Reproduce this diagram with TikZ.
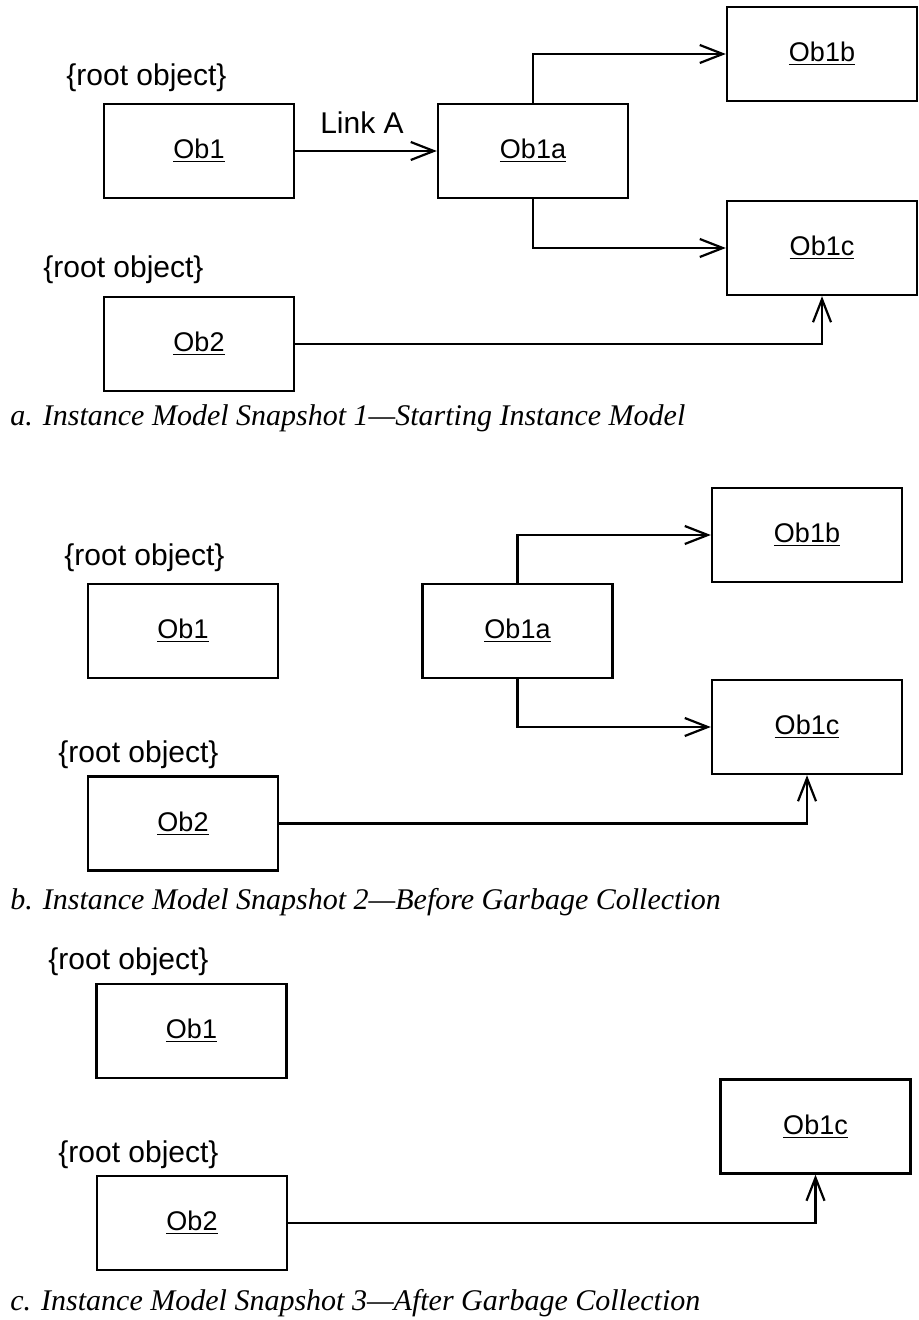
\documentclass[tikz,border=0pt]{standalone}
\usepackage{fontspec}
\newfontfamily\objfont{Liberation Sans}
\newfontfamily\capfont{Liberation Serif}
\usetikzlibrary{arrows.meta}

\tikzset{
  obj/.style={draw, line width=1.2pt, minimum width=95pt, minimum height=47pt,
    inner sep=0pt, font=\objfont\fontsize{13.5}{16}\selectfont},
  rootlabel/.style={anchor=west, inner sep=0pt, font=\objfont\fontsize{15}{18}\selectfont},
  link/.style={line width=1.1pt, -{Straight Barb[length=11.5pt,width=9pt]}},
  snapcaption/.style={anchor=base west, inner sep=0pt, font=\capfont\fontsize{15}{18}\selectfont\itshape},
}

\begin{document}
\begin{tikzpicture}[x=0.5pt, y=-0.5pt]
\useasboundingbox (0,0) rectangle (919,1320);

% snapshot 1
\node[rootlabel] (ra1) at (66,78)  {\{root object\}};
\node[rootlabel] (ra2) at (43,270) {\{root object\}};
\node[obj] (a1)  at (199,151) {\underline{Ob1}};
\node[obj] (a1a) at (533,151) {\underline{Ob1a}};
\node[obj] (a1b) at (822,54)  {\underline{Ob1b}};
\node[obj] (a1c) at (822,248) {\underline{Ob1c}};
\node[obj] (a2)  at (199,344) {\underline{Ob2}};
\node[rootlabel, anchor=center] (linkA) at (362,123) {Link A};

\draw[link] (a1) -- (a1a);
\draw[link] (a1a) |- (a1b);
\draw[link] (a1a) |- (a1c);
\draw[link] (a2) -| (a1c);

\node[snapcaption] (capa) at (10,425) {a. Instance Model Snapshot 1\textemdash Starting Instance Model};

% snapshot 2
\node[rootlabel] (rb1) at (64,558) {\{root object\}};
\node[rootlabel] (rb2) at (58,755) {\{root object\}};
\node[obj] (b1)  at (183,631)   {\underline{Ob1}};
\node[obj] (b1a) at (517.5,631) {\underline{Ob1a}};
\node[obj] (b1b) at (807,535)   {\underline{Ob1b}};
\node[obj] (b1c) at (807,727)   {\underline{Ob1c}};
\node[obj] (b2)  at (183,823.5) {\underline{Ob2}};

\draw[link] (b1a) |- (b1b);
\draw[link] (b1a) |- (b1c);
\draw[link] (b2) -| (b1c);

\node[snapcaption] (capb) at (10,909) {b. Instance Model Snapshot 2\textemdash Before Garbage Collection};

% snapshot 3
\node[rootlabel] (rc1) at (48,962)  {\{root object\}};
\node[rootlabel] (rc2) at (58,1155) {\{root object\}};
\node[obj] (c1)  at (191.5,1031)  {\underline{Ob1}};
\node[obj] (c1c) at (815.5,1126.5) {\underline{Ob1c}};
\node[obj] (c2)  at (192,1223)    {\underline{Ob2}};

\draw[link] (c2) -| (c1c);

\node[snapcaption] (capc) at (10,1310) {c. Instance Model Snapshot 3\textemdash After Garbage Collection};
\end{tikzpicture}
\end{document}
